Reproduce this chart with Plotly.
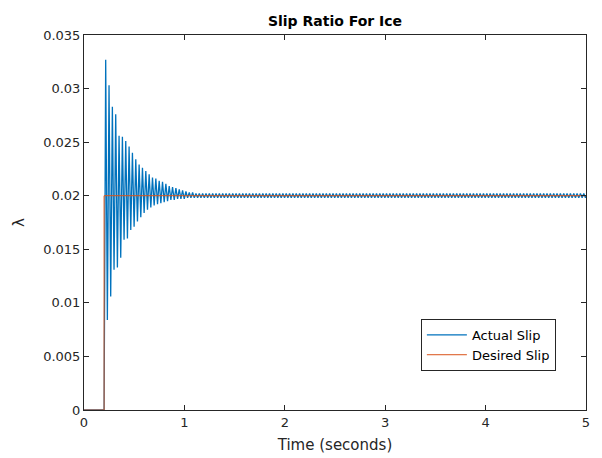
import plotly.graph_objects as go

# ---- data ----
x_tick_vals = [0, 1, 2, 3, 4, 5]
x_tick_text = ["0", "1", "2", "3", "4", "5"]
y_tick_vals = [0, 0.005, 0.01, 0.015, 0.02, 0.025, 0.03, 0.035]
y_tick_text = ["0", "0.005", "0.01", "0.015", "0.02", "0.025", "0.03", "0.035"]

# desired slip: 0 until braking starts, then 0.02
desired_time = [0, 0.2, 0.2, 5]
desired_slip = [0, 0, 0.02, 0.02]

# actual slip: zero before braking, then an oscillation around 0.02
pre_time = [0, 0.2]
pre_slip = [0, 0]
first_peak_time = 0.216
cycle_period = 0.0333

# successive maxima of the oscillation (transient, then steady ripple)
peak_values = [
    0.0327, 0.0303, 0.0283, 0.0276, 0.0256, 0.0255, 0.0251, 0.0246, 0.0240, 0.0234,
    0.0229, 0.0226, 0.0223, 0.0220, 0.0217, 0.0216, 0.0214, 0.0213, 0.0211, 0.0209,
    0.0208, 0.0207, 0.0206, 0.0205, 0.0204, 0.0203, 0.0203, 0.0202, 0.0202, 0.0202,
    0.0202, 0.0202, 0.0202, 0.0202, 0.0202, 0.0202, 0.0202, 0.0202, 0.0202, 0.0202,
    0.0202, 0.0202, 0.0202, 0.0202, 0.0202, 0.0202, 0.0202, 0.0202, 0.0202, 0.0202,
    0.0202, 0.0202, 0.0202, 0.0202, 0.0202, 0.0202, 0.0202, 0.0202, 0.0202, 0.0202,
    0.0202, 0.0202, 0.0202, 0.0202, 0.0202, 0.0202, 0.0202, 0.0202, 0.0202, 0.0202,
    0.0202, 0.0202, 0.0202, 0.0202, 0.0202, 0.0202, 0.0202, 0.0202, 0.0202, 0.0202,
    0.0202, 0.0202, 0.0202, 0.0202, 0.0202, 0.0202, 0.0202, 0.0202, 0.0202, 0.0202,
    0.0202, 0.0202, 0.0202, 0.0202, 0.0202, 0.0202, 0.0202, 0.0202, 0.0202, 0.0202,
    0.0202, 0.0202, 0.0202, 0.0202, 0.0202, 0.0202, 0.0202, 0.0202, 0.0202, 0.0202,
    0.0202, 0.0202, 0.0202, 0.0202, 0.0202, 0.0202, 0.0202, 0.0202, 0.0202, 0.0202,
    0.0202, 0.0202, 0.0202, 0.0202, 0.0202, 0.0202, 0.0202, 0.0202, 0.0202, 0.0202,
    0.0202, 0.0202, 0.0202, 0.0202, 0.0202, 0.0202, 0.0202, 0.0202, 0.0202, 0.0202,
    0.0202, 0.0202, 0.0202, 0.0202,
]
# successive minima of the oscillation
trough_values = [
    0.0084, 0.0106, 0.0131, 0.0133, 0.0142, 0.0159, 0.0160, 0.0168, 0.0171, 0.0176,
    0.0180, 0.0184, 0.0187, 0.0189, 0.0191, 0.0192, 0.0193, 0.0194, 0.0195, 0.0196,
    0.0196, 0.0197, 0.0197, 0.0197, 0.0198, 0.0198, 0.0198, 0.0198, 0.0198, 0.0198,
    0.0198, 0.0198, 0.0198, 0.0198, 0.0198, 0.0198, 0.0198, 0.0198, 0.0198, 0.0198,
    0.0198, 0.0198, 0.0198, 0.0198, 0.0198, 0.0198, 0.0198, 0.0198, 0.0198, 0.0198,
    0.0198, 0.0198, 0.0198, 0.0198, 0.0198, 0.0198, 0.0198, 0.0198, 0.0198, 0.0198,
    0.0198, 0.0198, 0.0198, 0.0198, 0.0198, 0.0198, 0.0198, 0.0198, 0.0198, 0.0198,
    0.0198, 0.0198, 0.0198, 0.0198, 0.0198, 0.0198, 0.0198, 0.0198, 0.0198, 0.0198,
    0.0198, 0.0198, 0.0198, 0.0198, 0.0198, 0.0198, 0.0198, 0.0198, 0.0198, 0.0198,
    0.0198, 0.0198, 0.0198, 0.0198, 0.0198, 0.0198, 0.0198, 0.0198, 0.0198, 0.0198,
    0.0198, 0.0198, 0.0198, 0.0198, 0.0198, 0.0198, 0.0198, 0.0198, 0.0198, 0.0198,
    0.0198, 0.0198, 0.0198, 0.0198, 0.0198, 0.0198, 0.0198, 0.0198, 0.0198, 0.0198,
    0.0198, 0.0198, 0.0198, 0.0198, 0.0198, 0.0198, 0.0198, 0.0198, 0.0198, 0.0198,
    0.0198, 0.0198, 0.0198, 0.0198, 0.0198, 0.0198, 0.0198, 0.0198, 0.0198, 0.0198,
    0.0198, 0.0198, 0.0198, 0.0198,
]

# assemble the actual-slip series from the extrema read above
actual_time = list(pre_time)
actual_slip = list(pre_slip)
for k, (pk, tr) in enumerate(zip(peak_values, trough_values)):
    tp = first_peak_time + k * cycle_period
    actual_time += [tp, tp + cycle_period / 2]
    actual_slip += [pk, tr]
actual_time.append(5)
actual_slip.append(0.02)

FONT = "DejaVu Sans"
AX = "#262626"

fig = go.Figure()
fig.add_trace(go.Scatter(x=actual_time, y=actual_slip, mode="lines", name="Actual Slip",
                         line=dict(color="#0072BD", width=1.3)))
fig.add_trace(go.Scatter(x=desired_time, y=desired_slip, mode="lines", name="Desired Slip",
                         line=dict(color="#D95319", width=1)))

axis_common = dict(showgrid=False, zeroline=False, showline=True, linecolor=AX, linewidth=1,
                   mirror="ticks", ticks="inside", ticklen=5, tickcolor=AX, tickwidth=1,
                   automargin=False,
                   tickfont=dict(family=FONT, size=13, color=AX))

fig.update_xaxes(range=[0, 5], tickvals=x_tick_vals, ticktext=x_tick_text,
                 title=dict(text="Time (seconds)", font=dict(family=FONT, size=15, color=AX), standoff=10),
                 **axis_common)
fig.update_yaxes(range=[0, 0.035], tickvals=y_tick_vals, ticktext=y_tick_text,
                 title=dict(text="λ", font=dict(family=FONT, size=15, color=AX), standoff=14),
                 **axis_common)

fig.update_layout(
    width=602, height=458,
    margin=dict(l=84, r=16, t=35, b=48),
    paper_bgcolor="white", plot_bgcolor="white",
    title=dict(text="<b>Slip Ratio For Ice</b>", x=335 / 602, xanchor="center",
               y=1 - 21 / 458, yanchor="middle", yref="container",
               font=dict(family=FONT, size=14, color="#000000")),
    showlegend=True,
    legend=dict(x=0.94, xanchor="right", y=0.243, yanchor="top",
                bgcolor="white", bordercolor=AX, borderwidth=1,
                font=dict(family=FONT, size=13, color="#000000"),
                tracegroupgap=0, itemwidth=40),
)

fig.write_html("out.html")
